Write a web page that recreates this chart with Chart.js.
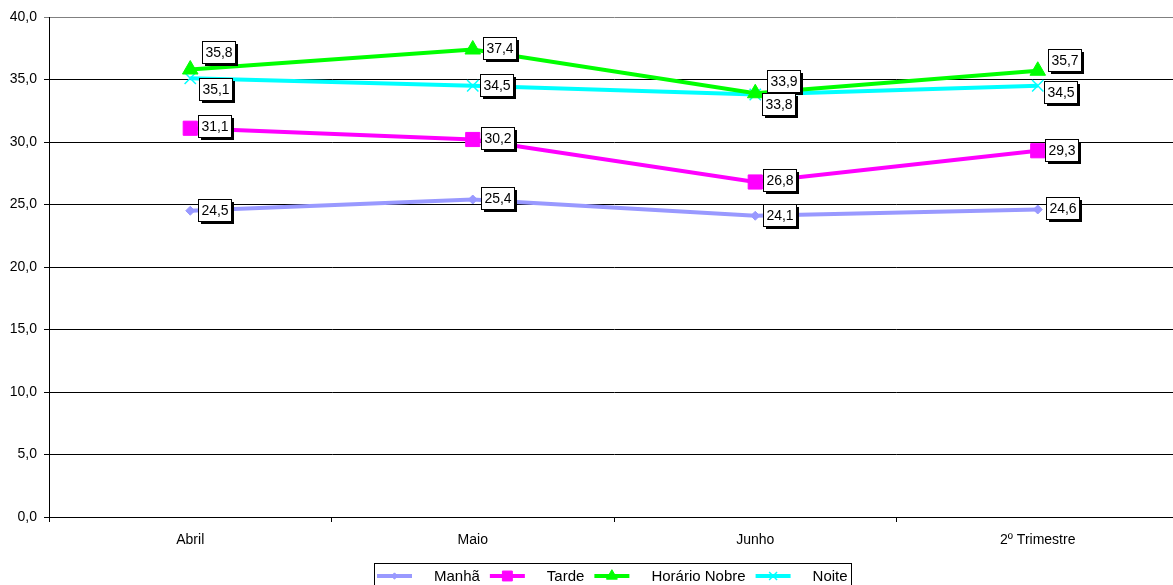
<!DOCTYPE html>
<html>
<head>
<meta charset="utf-8">
<title>Audiência por período</title>
<script src="https://cdn.jsdelivr.net/npm/chart.js@4/dist/chart.umd.min.js"></script>
<style>
  html, body { margin: 0; padding: 0; background: #fff; overflow: hidden; }
  #frame { width: 1173px; height: 585px; overflow: hidden; }
  #wrap { width: 1190px; height: 585px; }
</style>
</head>
<body>
<div id="frame"><div id="wrap"><canvas id="chart" width="1190" height="585"></canvas></div></div>
<script>
// Categories and series values
const categories = ['Abril', 'Maio', 'Junho', '2º Trimestre'];
const manha = [24.5, 25.4, 24.1, 24.6];
const tarde = [31.1, 30.2, 26.8, 29.3];
const horarioNobre = [35.8, 37.4, 33.9, 35.7];
const noite = [35.1, 34.5, 33.8, 34.5];
const seriesNames = ['Manhã', 'Tarde', 'Horário Nobre', 'Noite'];

// Value axis range
const yMin = 0;
const yMax = 40;
const yStep = 5;

const FONT = '"Liberation Sans", Arial, Helvetica, sans-serif';
const fmt = v => Number(v).toFixed(1).replace('.', ',');

// Value boxes: white box with a hard black drop shadow beside each point.
// Offsets per dataset: [dx to box left, dy of box centre] in pixels.
const valueBoxes = {
  id: 'valueBoxes',
  afterDatasetsDraw(chart, args, opts) {
    const ctx = chart.ctx;
    ctx.save();
    ctx.font = '14px ' + FONT;
    ctx.textAlign = 'center';
    ctx.textBaseline = 'middle';
    chart.data.datasets.forEach((ds, di) => {
      const meta = chart.getDatasetMeta(di);
      const offs = opts.offsets[di] || [];
      meta.data.forEach((pt, i) => {
        const txt = fmt(ds.data[i]);
        const o = offs[i] || [8, -2];
        const w = Math.round(ctx.measureText(txt).width) + 6;
        const h = 22;
        const left = Math.round(pt.x + o[0]);
        const top = Math.round(pt.y + o[1] - h / 2);
        ctx.fillStyle = '#000';
        ctx.fillRect(left + 3, top + 3, w, h);
        ctx.fillStyle = '#fff';
        ctx.fillRect(left, top, w, h);
        ctx.strokeStyle = '#000';
        ctx.lineWidth = 1;
        ctx.strokeRect(left + 0.5, top + 0.5, w, h);
        ctx.fillStyle = '#000';
        ctx.fillText(txt, left + w / 2 + 0.5, top + h / 2 + 1);
      });
    });
    ctx.restore();
  }
};

// Legend strip along the bottom: line sample with marker, then the name.
const bottomLegend = {
  id: 'bottomLegend',
  afterDraw(chart, args, opts) {
    const ctx = chart.ctx;
    ctx.save();
    ctx.font = '15px ' + FONT;
    const lineLen = 35, gapText = 22, gapItem = 10, pad = 3;
    const items = chart.data.datasets.map(ds => ({ ds, tw: ctx.measureText(ds.label).width }));
    let total = pad * 2;
    items.forEach((it, i) => { total += lineLen + gapText + it.tw + (i < items.length - 1 ? gapItem : 0); });
    const boxLeft = Math.round(opts.centerX - total / 2);
    const top = opts.top;
    const cy = top + 13;
    ctx.strokeStyle = '#000';
    ctx.lineWidth = 1;
    ctx.strokeRect(boxLeft + 0.5, top + 0.5, Math.round(total), 40);
    let x = boxLeft + pad;
    items.forEach(it => {
      const ds = it.ds;
      ctx.strokeStyle = ds.borderColor;
      ctx.lineWidth = 4;
      ctx.beginPath();
      ctx.moveTo(x, cy);
      ctx.lineTo(x + lineLen, cy);
      ctx.stroke();
      ctx.fillStyle = ds.borderColor;
      ctx.strokeStyle = ds.borderColor;
      ctx.lineWidth = ds.pointBorderWidth;
      Chart.helpers.drawPoint(ctx, {
        pointStyle: ds.pointStyle,
        radius: ds.pointRadius * 0.7,
        borderWidth: ds.pointBorderWidth,
        rotation: 0
      }, x + lineLen / 2, cy);
      x += lineLen + gapText;
      ctx.fillStyle = '#000';
      ctx.textAlign = 'left';
      ctx.textBaseline = 'middle';
      ctx.fillText(ds.label, x, cy + 1);
      x += it.tw + gapItem;
    });
    ctx.restore();
  }
};

function series(label, data, color, style, radius, bw) {
  return {
    label, data,
    borderColor: color,
    backgroundColor: color,
    pointBackgroundColor: color,
    pointBorderColor: color,
    borderWidth: 4,
    pointStyle: style,
    pointRadius: radius,
    pointHoverRadius: radius,
    pointBorderWidth: bw,
    tension: 0,
    fill: false
  };
}

new Chart(document.getElementById('chart'), {
  type: 'line',
  data: {
    labels: categories,
    datasets: [
      series(seriesNames[0], manha, '#9999FF', 'rectRot', 4.5, 1),
      series(seriesNames[1], tarde, '#FF00FF', 'rect', 10, 1),
      series(seriesNames[2], horarioNobre, '#00FF00', 'triangle', 9, 1),
      series(seriesNames[3], noite, '#00FFFF', 'crossRot', 8, 1.5)
    ]
  },
  options: {
    responsive: false,
    animation: false,
    devicePixelRatio: 1,
    layout: { padding: { top: 17, left: 0, right: 0, bottom: 0 } },
    plugins: {
      legend: { display: false },
      tooltip: { enabled: false },
      valueBoxes: {
        offsets: [
          [[8, -1], [8, -2], [8, -1], [8, -2]],
          [[8, -2], [8, -2], [8, -2], [7, -1]],
          [[12, -18], [10, -2], [12, -12], [10, -11]],
          [[9, 11], [7, -1], [7, 9], [6, 6]]
        ]
      },
      bottomLegend: { centerX: 612, top: 563 }
    },
    scales: {
      x: {
        offset: true,
        grid: {
          offset: true,
          drawOnChartArea: false,
          drawTicks: true,
          tickLength: 5,
          color: '#000'
        },
        border: { color: '#000', width: 1 },
        ticks: {
          color: '#000',
          font: { family: FONT, size: 14 },
          padding: 10,
          maxRotation: 0,
          autoSkip: false
        },
        afterFit(s) { s.height = 68; }
      },
      y: {
        min: yMin,
        max: yMax,
        grid: {
          color: c => (c.tick && c.tick.value === yMax ? '#808080' : '#000'),
          lineWidth: 1,
          tickLength: 5
        },
        border: { color: '#000', width: 1 },
        ticks: {
          stepSize: yStep,
          color: '#000',
          font: { family: FONT, size: 14 },
          padding: 7,
          callback: v => fmt(v)
        },
        afterFit(s) { s.width = 49; }
      }
    }
  },
  plugins: [valueBoxes, bottomLegend]
});
</script>
</body>
</html>
